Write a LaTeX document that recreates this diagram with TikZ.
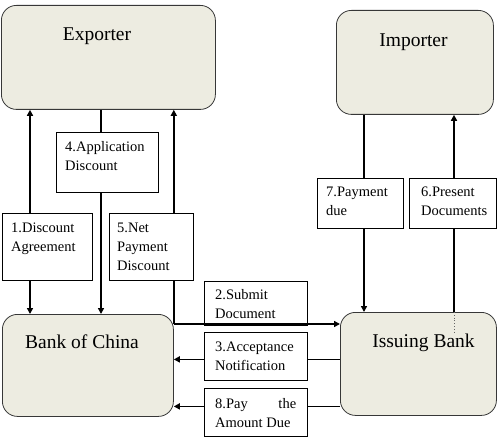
\documentclass[tikz,border=0pt]{standalone}
\usepackage{fontspec}
\setmainfont{Liberation Serif}
\usetikzlibrary{arrows.meta}
\definecolor{boxfill}{RGB}{237,236,225}
\definecolor{boxline}{RGB}{55,55,55}
\begin{document}
\begin{tikzpicture}[x=1pt,y=-1pt,
  party/.style={draw=boxline, line width=0.8pt, fill=boxfill, rounded corners=15pt, anchor=north west, inner sep=0pt},
  lblbox/.style={draw=black, line width=0.8pt, fill=white, anchor=north west, inner sep=0pt},
  lbltext/.style={anchor=north west, inner sep=0pt, align=left, yshift=9.9pt, font=\fontsize{14.5}{19}\selectfont},
  title/.style={anchor=base, inner sep=0pt, font=\fontsize{19.5}{23}\selectfont},
  tip/.tip={Triangle[length=6pt,width=6pt]},
  conn/.style={line width=1.5pt, -tip},
]
\useasboundingbox (0,0) rectangle (500,441);
% parties
\node[party, minimum width=214pt, minimum height=104pt] (exp) at (1,5) {};
\node[title] (expt) at (97,41) {Exporter};
\node[party, minimum width=157pt, minimum height=104pt] (imp) at (336,10) {};
\node[title] (impt) at (413.5,47) {Importer};
\node[party, minimum width=171pt, minimum height=102pt] (boc) at (2,314) {};
\node[title] (boct) at (82,348) {Bank of China};
\node[party, minimum width=156pt, minimum height=103pt] (iss) at (340,312) {};
\node[title] (isst) at (423.5,347) {Issuing Bank};
% connectors
\coordinate (a1) at ([xshift=29pt]exp.south west);
\draw[conn, tip-tip] (a1) -- (a1 |- boc.north);
\coordinate (a4) at ([xshift=100pt]exp.south west);
\draw[conn] (a4) -- (a4 |- boc.north);
\coordinate (j) at ([yshift=-10pt]boc.north east);
\draw[conn] (j) -- (j |- exp.south);
\coordinate (a3) at ([yshift=4.5pt]iss.west);
\draw[conn] (a3) -- (a3 -| boc.east);
\coordinate (a8) at ([yshift=-42.5pt]iss.west);
\draw[conn] (a8) -- (a8 -| boc.east);
\coordinate (a7) at ([xshift=28pt]imp.south west);
\draw[conn, line width=2.8pt] (a7) -- (a7 |- iss.north);
\coordinate (a6) at ([xshift=114pt]iss.north west);
\draw[conn] (a6) -- (a6 |- imp.south);
\draw[dotted, line width=0.8pt, black!60] (a6) -- ([yshift=-20pt]a6);
% label boxes
\node[lblbox, minimum width=90pt, minimum height=67pt] (b1) at (2,213) {};
\node[lbltext] (t1) at (11,233) {1.Discount\\Agreement};
\node[lblbox, minimum width=84pt, minimum height=67pt] (b5) at (109,213) {};
\node[lbltext] (t5) at (117,233) {5.Net\\Payment\\Discount};
\node[lblbox, minimum width=102pt, minimum height=60pt] (b4) at (56,132) {};
\node[lbltext] (t4) at (65,151) {4.Application\\Discount};
\node[lblbox, minimum width=86pt, minimum height=50pt] (b7) at (317,178) {};
\node[lbltext] (t7) at (326,197) {7.Payment\\due};
\node[lblbox, minimum width=87pt, minimum height=50pt] (b6) at (409,178) {};
\node[lbltext] (t6) at (421,197) {6.Present\\Documents};
\node[lblbox, minimum width=103pt, minimum height=44pt] (b2) at (204,281) {};
\node[lbltext] (t2) at (215,299) {2.Submit\\Document};
\node[lblbox, minimum width=103pt, minimum height=48pt] (b3) at (204,332) {};
\node[lbltext] (t3) at (215,352) {3.Acceptance\\Notification};
\node[lblbox, minimum width=103pt, minimum height=48pt] (b8) at (204,388) {};
\node[lbltext] (t8) at (215,408) {\makebox[81pt][s]{8.Pay the}\\Amount Due};
% submit connector on top
\draw[conn, line width=2.3pt] (j) -- (j -| iss.west);
\end{tikzpicture}
\end{document}
